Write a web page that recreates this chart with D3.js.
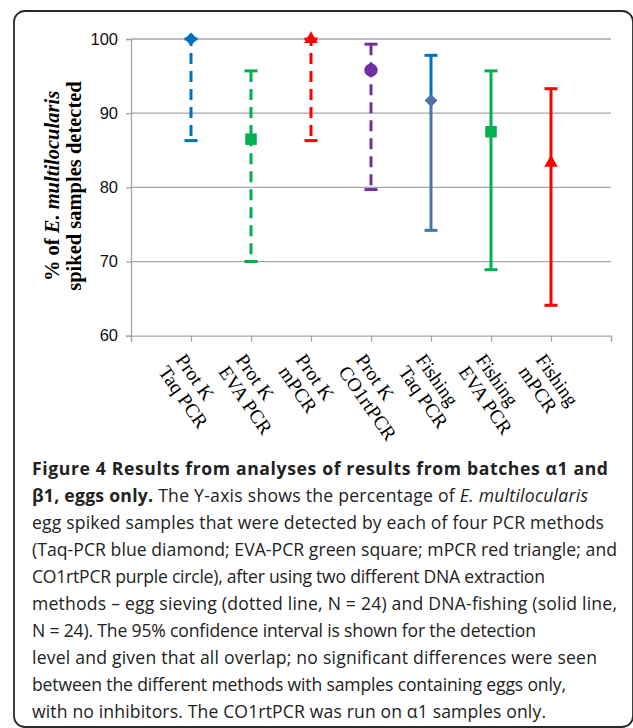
<!DOCTYPE html>
<html>
<head>
<meta charset="utf-8">
<script src="https://cdn.jsdelivr.net/npm/d3@7"></script>
<style>
  html, body { margin: 0; padding: 0; background: #fff; }
  svg { display: block; }
</style>
</head>
<body>
<svg id="chart" width="633" height="728"></svg>
<script>
// ---------- data ----------
const categories = [
  ["Prot K", "Taq PCR"],
  ["Prot K", "EVA PCR"],
  ["Prot K", "mPCR"],
  ["Prot K", "CO1rtPCR"],
  ["Fishing", "Taq PCR"],
  ["Fishing", "EVA PCR"],
  ["Fishing", "mPCR"]
];
const values = [100, 86.5, 100, 95.8, 91.7, 87.5, 83.3];
const upperCI = [100, 95.7, 100, 99.3, 97.8, 95.7, 93.3];
const lowerCI = [86.3, 70.0, 86.3, 79.7, 74.2, 68.9, 64.1];
const pcrMethod = ["Taq", "EVA", "mPCR", "CO1", "Taq", "EVA", "mPCR"];
const extraction = ["sieving", "sieving", "sieving", "sieving", "fishing", "fishing", "fishing"];
const yTicks = [60, 70, 80, 90, 100];
const yTitle = [
  [{t: "% of ", i: false}, {t: "E. multilocularis", i: true}],
  [{t: "spiked samples detected", i: false}]
];
const caption = [
  [{t: "Figure 4 Results from analyses of results from batches α1 and", s: "b"}],
  [{t: "β1, eggs only.", s: "b"}, {t: " The Y-axis shows the percentage of ", s: "n"}, {t: "E. multilocularis", s: "i"}],
  [{t: "egg spiked samples that were detected by each of four PCR methods", s: "n"}],
  [{t: "(Taq-PCR blue diamond; EVA-PCR green square; mPCR red triangle; and", s: "n"}],
  [{t: "CO1rtPCR purple circle), after using two different DNA extraction", s: "n"}],
  [{t: "methods – egg sieving (dotted line, N = 24) and DNA-fishing (solid line,", s: "n"}],
  [{t: "N = 24). The 95% confidence interval is shown for the detection", s: "n"}],
  [{t: "level and given that all overlap; no significant differences were seen", s: "n"}],
  [{t: "between the different methods with samples containing eggs only,", s: "n"}],
  [{t: "with no inhibitors. The CO1rtPCR was run on α1 samples only.", s: "n"}]
];
// rendered widths of the caption lines (layout, px)
const captionWidths = [576, 556, 572, 585, 513, 585, 504, 565, 534, 514];

// ---------- styles ----------
const methodStyle = {
  Taq:  {color: "#0070C0", symbol: d3.symbolDiamond2, size: 105},
  EVA:  {color: "#00B050", symbol: d3.symbolSquare2, size: 169},
  mPCR: {color: "#FF0000", symbol: d3.symbolTriangle2, size: 130},
  CO1:  {color: "#7030A0", symbol: d3.symbolCircle, size: 140}
};
// the fishing Taq series is drawn in a muted steel blue below its point
const lowerOverride = {4: "#4A74AA"};

const svg = d3.select("#chart");

// frame
svg.append("rect")
  .attr("x", 14).attr("y", 11)
  .attr("width", 619).attr("height", 716)
  .attr("rx", 11).attr("ry", 11)
  .attr("fill", "none")
  .attr("stroke", "#2a2a2a")
  .attr("stroke-width", 1.8);

// ---------- scales ----------
const x = d3.scaleLinear().domain([0, 8]).range([131, 611]);
const y = d3.scaleLinear().domain([60, 100]).range([335.7, 39]);

// gridlines
svg.append("g").selectAll("line")
  .data(yTicks.filter(d => d > 60))
  .join("line")
  .attr("x1", x(0)).attr("x2", x(8))
  .attr("y1", d => y(d)).attr("y2", d => y(d))
  .attr("stroke", "#A6A6A6").attr("stroke-width", 1.3);

// y axis
const yAxis = svg.append("g")
  .attr("transform", `translate(${x(0)},0)`)
  .call(d3.axisLeft(y).tickValues(yTicks).tickSize(5).tickPadding(8).tickFormat(d3.format("d")));
yAxis.select(".domain").attr("stroke", "#A6A6A6").attr("stroke-width", 1.3);
yAxis.selectAll(".tick line").attr("stroke", "#A6A6A6").attr("stroke-width", 1.3);
yAxis.selectAll(".tick text")
  .attr("font-family", "'Liberation Sans', Arial, sans-serif")
  .attr("font-size", 16.5).attr("fill", "#111");

// x axis
const xAxis = svg.append("g")
  .attr("transform", `translate(0,${y(60)})`)
  .call(d3.axisBottom(x).tickValues(d3.range(0, 9)).tickSize(6).tickFormat(""));
xAxis.select(".domain").attr("stroke", "#A6A6A6").attr("stroke-width", 1.3);
xAxis.selectAll(".tick line").attr("stroke", "#A6A6A6").attr("stroke-width", 1.3);

// x labels
const xl = svg.append("g");
categories.forEach((lines, i) => {
  const g = xl.append("g")
    .attr("transform", `translate(${x(i + 1)},${y(60)}) rotate(55)`);
  lines.forEach((ln, j) => {
    g.append("text")
      .attr("x", 10.5).attr("y", 27 + j * 21)
      .attr("font-family", "'Liberation Serif', 'Times New Roman', serif")
      .attr("font-size", 19.5)
      .attr("fill", "#000")
      .text(ln);
  });
});

// y title
yTitle.forEach((parts, j) => {
  const t = svg.append("text")
    .attr("transform", `translate(${59 + j * 22},186) rotate(-90)`)
    .attr("text-anchor", "middle")
    .attr("font-family", "'Liberation Serif', 'Times New Roman', serif")
    .attr("font-weight", "bold")
    .attr("font-size", 20.5)
    .attr("fill", "#000");
  parts.forEach(p => t.append("tspan").attr("font-style", p.i ? "italic" : "normal").text(p.t));
});

// error bars + markers
const capW = 13;
const series = svg.append("g");
values.forEach((v, i) => {
  const st = methodStyle[pcrMethod[i]];
  const dashed = extraction[i] === "sieving";
  const cx = x(i + 1);
  const lowColor = lowerOverride[i] || st.color;
  const g = series.append("g");
  g.append("line")
    .attr("x1", cx).attr("x2", cx)
    .attr("y1", y(upperCI[i])).attr("y2", y(v))
    .attr("stroke", st.color).attr("stroke-width", 3)
    .attr("stroke-dasharray", dashed ? "11,7" : null);
  g.append("line")
    .attr("x1", cx).attr("x2", cx)
    .attr("y1", y(v)).attr("y2", y(lowerCI[i]))
    .attr("stroke", lowColor).attr("stroke-width", 3)
    .attr("stroke-dasharray", dashed ? "11,7" : null)
    .attr("stroke-dashoffset", dashed ? 4 : null);
  g.append("line")
    .attr("x1", cx - capW / 2).attr("x2", cx + capW / 2)
    .attr("y1", y(upperCI[i])).attr("y2", y(upperCI[i]))
    .attr("stroke", st.color).attr("stroke-width", 3);
  g.append("line")
    .attr("x1", cx - capW / 2).attr("x2", cx + capW / 2)
    .attr("y1", y(lowerCI[i])).attr("y2", y(lowerCI[i]))
    .attr("stroke", lowColor).attr("stroke-width", 3);
  g.append("path")
    .attr("d", d3.symbol().type(st.symbol).size(st.size)())
    .attr("transform", `translate(${cx},${y(v)})`)
    .attr("fill", lowColor);
});

// caption
const cap = svg.append("g");
caption.forEach((parts, j) => {
  const t = cap.append("text")
    .attr("x", 32).attr("y", 475 + j * 27)
    .attr("font-family", "'Open Sans', 'Noto Sans', sans-serif")
    .attr("font-size", 17.6)
    .attr("fill", "#222")
    .attr("textLength", captionWidths[j])
    .attr("lengthAdjust", "spacing");
  parts.forEach(p => t.append("tspan")
    .attr("font-weight", p.s === "b" ? "bold" : "normal")
    .attr("font-style", p.s === "i" ? "italic" : "normal")
    .text(p.t));
});
</script>
</body>
</html>
